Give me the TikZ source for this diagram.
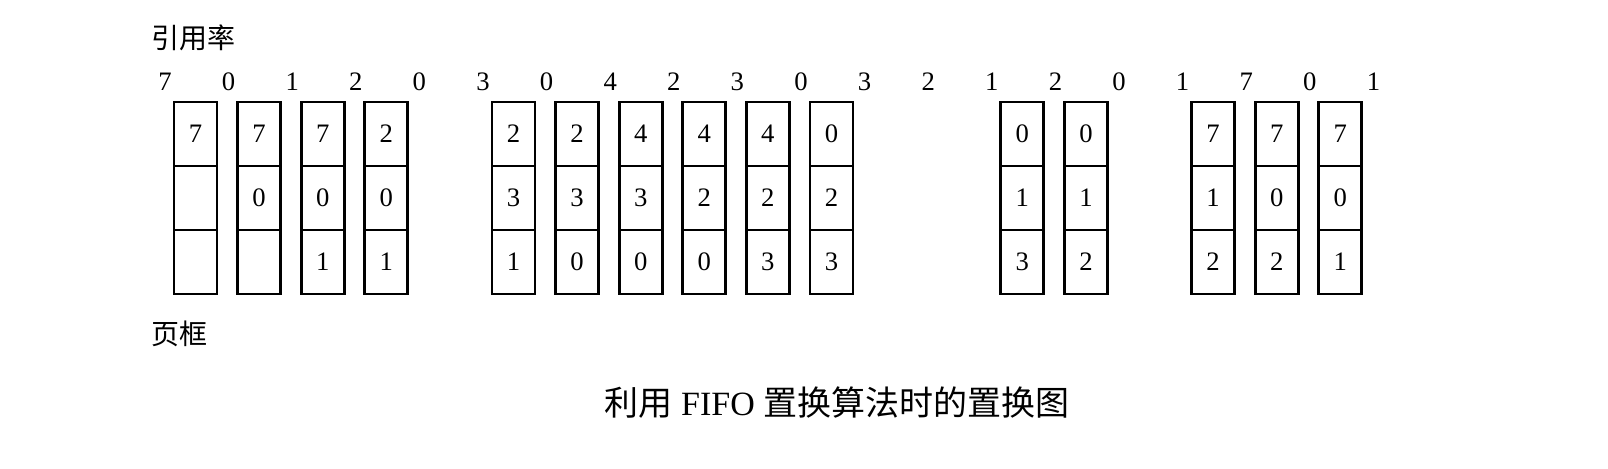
\documentclass[tikz,border=0pt]{standalone}
\usepackage{fontspec}
\setmainfont{Liberation Serif}
\newfontfamily\cjk{Noto Sans CJK SC}
\usepackage{tikz}
\tikzset{
	frm/.style={line width=2pt, color=black},
	num/.style={inner sep=0pt, font=\fontsize{20}{24}\selectfont},
	lbl/.style={inner sep=0pt, anchor=west, font=\cjk\fontsize{21}{25}\selectfont}
}
\def\pageframes(#1:#2)(#3/#4/#5){
	\draw[frm] ({#2-21.5}, 102) rectangle ({#2+21.5}, 294);
	\draw[frm] ({#2-21.5}, 166) -- ({#2+21.5}, 166);
	\draw[frm] ({#2-21.5}, 230) -- ({#2+21.5}, 230);
	\node[num] (f#1a) at (#2, 134) {#3};
	\node[num] (f#1b) at (#2, 198) {#4};
	\node[num] (f#1c) at (#2, 262) {#5};
}

\begin{document}
\begin{tikzpicture}[x=0.75pt, y=-0.75pt]
		%%%%% START %%%%%
		
		\path[use as bounding box] (0, 0) rectangle (1608, 468);
		
		\node[lbl] (refrate) at (151, 38) {引用率};
		\node[lbl] (frames) at (151, 334) {页框};
		
		% reference string
		\node[num] (r0) at (165, 81.5) {7};
		\node[num] (r1) at (228.6, 81.5) {0};
		\node[num] (r2) at (292.2, 81.5) {1};
		\node[num] (r3) at (355.8, 81.5) {2};
		\node[num] (r4) at (419.4, 81.5) {0};
		\node[num] (r5) at (483, 81.5) {3};
		\node[num] (r6) at (546.6, 81.5) {0};
		\node[num] (r7) at (610.2, 81.5) {4};
		\node[num] (r8) at (673.8, 81.5) {2};
		\node[num] (r9) at (737.4, 81.5) {3};
		\node[num] (r10) at (801, 81.5) {0};
		\node[num] (r11) at (864.6, 81.5) {3};
		\node[num] (r12) at (928.2, 81.5) {2};
		\node[num] (r13) at (991.8, 81.5) {1};
		\node[num] (r14) at (1055.4, 81.5) {2};
		\node[num] (r15) at (1119, 81.5) {0};
		\node[num] (r16) at (1182.6, 81.5) {1};
		\node[num] (r17) at (1246.2, 81.5) {7};
		\node[num] (r18) at (1309.8, 81.5) {0};
		\node[num] (r19) at (1373.4, 81.5) {1};
		
		% page frames after each fault
		\pageframes(0:195.5)(7//)
		\pageframes(1:259.1)(7/0/)
		\pageframes(2:322.7)(7/0/1)
		\pageframes(3:386.3)(2/0/1)
		
		\pageframes(5:513.5)(2/3/1)
		\pageframes(6:577.1)(2/3/0)
		\pageframes(7:640.7)(4/3/0)
		\pageframes(8:704.3)(4/2/0)
		\pageframes(9:767.9)(4/2/3)
		\pageframes(10:831.5)(0/2/3)
		
		\pageframes(13:1022.3)(0/1/3)
		\pageframes(14:1085.9)(0/1/2)
		
		\pageframes(17:1213.1)(7/1/2)
		\pageframes(18:1276.7)(7/0/2)
		\pageframes(19:1340.3)(7/0/1)
		
		\node[inner sep=0pt, font=\fontsize{25.5}{30}\selectfont] (caption) at (837, 403) {{\cjk 利用} FIFO {\cjk 置换算法时的置换图}};
		
		%%%%% END %%%%%
\end{tikzpicture}
\end{document}
